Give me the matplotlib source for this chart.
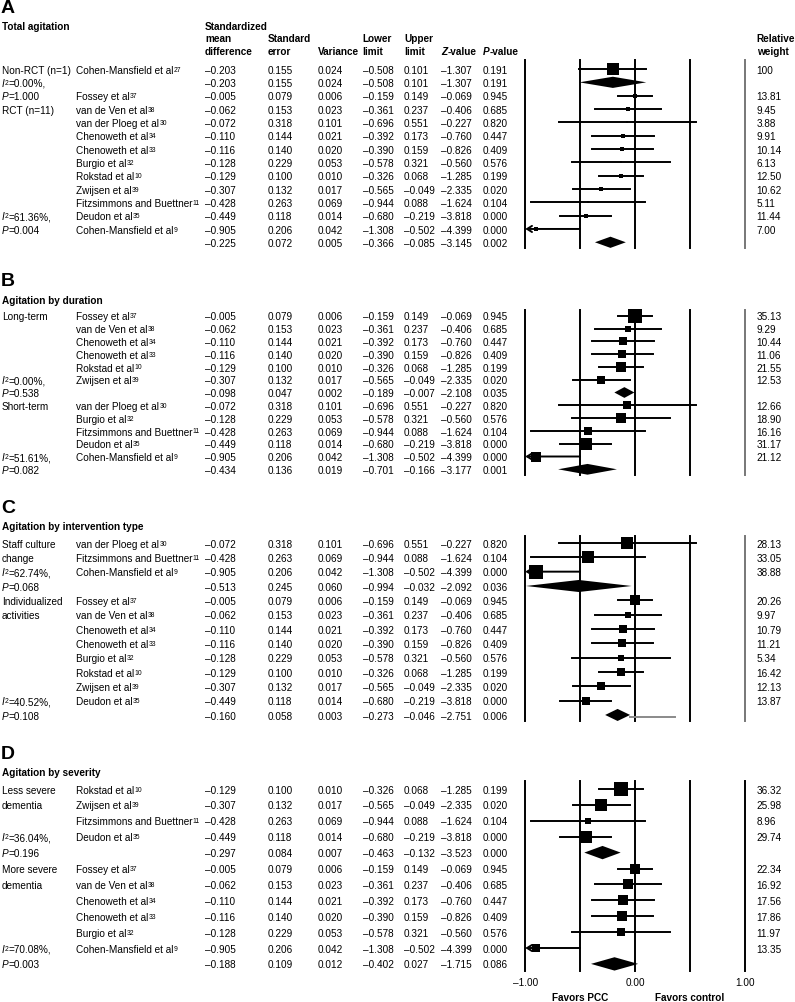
import numpy as np
import matplotlib.pyplot as plt
from matplotlib import transforms

plt.rcParams['font.family'] = 'Liberation Sans'

# studies (the same numbers come back in every panel)
study_name = ["Cohen-Mansfield et al", "Fossey et al", "van de Ven et al", "van der Ploeg et al",
              "Chenoweth et al", "Chenoweth et al", "Burgio et al", "Rokstad et al",
              "Zwijsen et al", "Fitzsimmons and Buettner", "Deudon et al", "Cohen-Mansfield et al"]
study_ref = ["27", "37", "38", "30", "34", "33", "32", "10", "39", "11", "35", "9"]
study_smd = [-0.203, -0.005, -0.062, -0.072, -0.110, -0.116, -0.128, -0.129, -0.307, -0.428, -0.449, -0.905]
study_se = [0.155, 0.079, 0.153, 0.318, 0.144, 0.140, 0.229, 0.100, 0.132, 0.263, 0.118, 0.206]
study_var = [0.024, 0.006, 0.023, 0.101, 0.021, 0.020, 0.053, 0.010, 0.017, 0.069, 0.014, 0.042]
study_lo = [-0.508, -0.159, -0.361, -0.696, -0.392, -0.390, -0.578, -0.326, -0.565, -0.944, -0.680, -1.308]
study_hi = [0.101, 0.149, 0.237, 0.551, 0.173, 0.159, 0.321, 0.068, -0.049, 0.088, -0.219, -0.502]
study_z = [-1.307, -0.069, -0.406, -0.227, -0.760, -0.826, -0.560, -1.285, -2.335, -1.624, -3.818, -4.399]
study_p = [0.191, 0.945, 0.685, 0.820, 0.447, 0.409, 0.576, 0.199, 0.020, 0.104, 0.000, 0.000]

# "S" = pooled row (smd, se, var, lo, hi, z, p)
a_rows = [0, "S", 1, 2, 3, 4, 5, 6, 7, 8, 9, 10, 11, "S"]
a_weight = [100, None, 13.81, 9.45, 3.88, 9.91, 10.14, 6.13, 12.50, 10.62, 5.11, 11.44, 7.00, None]
a_pooled = [[-0.203, 0.155, 0.024, -0.508, 0.101, -1.307, 0.191],
            [-0.225, 0.072, 0.005, -0.366, -0.085, -3.145, 0.002]]
a_groups = {0: "Non-RCT (n=1)", 3: "RCT (n=11)"}
a_het = [(1, "0.00%,", "1.000"), (11, "61.36%,", "0.004")]

b_rows = [1, 2, 4, 5, 7, 8, "S", 3, 6, 9, 10, 11, "S"]
b_weight = [35.13, 9.29, 10.44, 11.06, 21.55, 12.53, None, 12.66, 18.90, 16.16, 31.17, 21.12, None]
b_pooled = [[-0.098, 0.047, 0.002, -0.189, -0.007, -2.108, 0.035],
            [-0.434, 0.136, 0.019, -0.701, -0.166, -3.177, 0.001]]
b_groups = {0: "Long-term", 7: "Short-term"}
b_het = [(5, "0.00%,", "0.538"), (11, "51.61%,", "0.082")]

c_rows = [3, 9, 11, "S", 1, 2, 4, 5, 6, 7, 8, 10, "S"]
c_weight = [28.13, 33.05, 38.88, None, 20.26, 9.97, 10.79, 11.21, 5.34, 16.42, 12.13, 13.87, None]
c_pooled = [[-0.513, 0.245, 0.060, -0.994, -0.032, -2.092, 0.036],
            [-0.160, 0.058, 0.003, -0.273, -0.046, -2.751, 0.006]]
c_groups = {0: "Staff culture", 1: "change", 4: "Individualized", 5: "activities"}
c_het = [(2, "62.74%,", "0.068"), (11, "40.52%,", "0.108")]
c_trail_end = 0.36  # stray grey line after the last diamond

d_rows = [7, 8, 9, 10, "S", 1, 2, 4, 5, 6, 11, "S"]
d_weight = [36.32, 25.98, 8.96, 29.74, None, 22.34, 16.92, 17.56, 17.86, 11.97, 13.35, None]
d_pooled = [[-0.297, 0.084, 0.007, -0.463, -0.132, -3.523, 0.000],
            [-0.188, 0.109, 0.012, -0.402, 0.027, -1.715, 0.086]]
d_groups = {0: "Less severe", 1: "dementia", 5: "More severe", 6: "dementia"}
d_het = [(3, "36.04%,", "0.196"), (10, "70.08%,", "0.003")]

W, H = 795, 1003
fig = plt.figure(figsize=(W / 100, H / 100), dpi=100)
FS = 7.2
# shift so that a baseline-aligned text sits centred on its row
drop = transforms.ScaledTranslation(0, -3.6 / 100, fig.dpi_scale_trans)


def fx(px):
    return px / W


def fy(py):
    return 1 - py / H


def fmt(v):
    return f"{v:.3f}".replace("-", "\u2013")


def rich(ax, x, y, parts, tr, bold=False):
    # parts: (text, style) with style 'n', 'i' or 'sup'
    first = prev = None
    for txt, st in parts:
        kw = dict(fontsize=FS, fontweight='bold' if bold else 'normal',
                  fontstyle='italic' if st == 'i' else 'normal')
        if prev is None:
            prev = first = ax.text(x, y, txt, transform=tr, va='baseline', ha='left', **kw)
        elif st == 'sup':
            prev = ax.annotate(txt, xy=(1, 1), xycoords=prev, xytext=(0.2, -0.7), textcoords='offset points',
                               va='top', ha='left', fontsize=FS * 0.68, annotation_clip=False)
        else:
            prev = ax.annotate(txt, xy=(1, 0), xycoords=(prev, first), va='bottom', ha='left',
                               annotation_clip=False, **kw)
    return first


col_x = [205, 268, 318, 362.7, 404, 441, 482.7]
side_x, name_x, weight_x = 2, 76, 756.7
x_left, x_right = 525.3, 745


def draw_panel(letter, title, title_y, rows, weights, pooled, groups, het, first, step, top_pad, k, edge,
               trail=None):
    n = len(rows)
    top = first - top_pad * step
    bottom = first + (n - 1 + 0.45) * step
    ax = fig.add_axes([fx(x_left), fy(bottom), (x_right - x_left) / W, (bottom - top) / H])
    ax.set_xlim(-1, 1)
    ax.set_ylim(n - 1 + 0.45, -top_pad)
    for s in ax.spines.values():
        s.set_visible(False)
    ax.set_xticks([])
    ax.set_yticks([])
    for xv in [-1, -0.5, 0, 0.5]:
        ax.axvline(xv, color='black', lw=1.4, clip_on=False)
    ax.axvline(1, color=edge, lw=1.4, clip_on=False)

    fig.text(fx(1), fy(title_y - 18), letter, fontsize=14, fontweight='bold', va='center')
    fig.text(fx(2), fy(title_y + 3.6), title, fontsize=FS, fontweight='bold', va='baseline')

    tr = transforms.blended_transform_factory(fig.transFigure, ax.transData) + drop
    j = 0
    for i, r in enumerate(rows):
        if r == "S":
            vals = pooled[j]
            j += 1
            smd, lo, hi = vals[0], vals[3], vals[4]
            h = 0.42
            ax.fill([lo, smd, hi, smd], [i, i - h, i, i + h], color='black', lw=0, clip_on=False)
            if trail is not None and j == len(pooled):
                ax.plot([hi, trail], [i + 0.15, i + 0.15], color='#8a8a8a', lw=1.4)
        else:
            vals = [study_smd[r], study_se[r], study_var[r], study_lo[r], study_hi[r], study_z[r], study_p[r]]
            smd, lo, hi = vals[0], vals[3], vals[4]
            rich(ax, fx(name_x), i, [(study_name[r], 'n'), (study_ref[r], 'sup')], tr)
            if lo < -1:
                ax.annotate('', xy=(-1, i), xytext=(hi, i),
                            arrowprops=dict(arrowstyle='->,head_length=0.35,head_width=0.22',
                                            lw=1.4, color='black', shrinkA=0, shrinkB=0),
                            annotation_clip=False)
            else:
                ax.plot([lo, hi], [i, i], color='black', lw=1.4, clip_on=False)
            w = weights[i]
            ax.plot(smd, i, 's', color='black', mew=0, ms=k * np.sqrt(w) * 0.72, clip_on=False)
            wl = f"{w:g}" if w >= 100 else f"{w:.2f}"
            ax.text(fx(weight_x), i, wl, transform=tr, fontsize=FS, va='baseline', ha='left')
        for cx, v in zip(col_x, vals):
            ax.text(fx(cx), i, fmt(v), transform=tr, fontsize=FS, va='baseline', ha='left')
        if i in groups:
            ax.text(fx(side_x), i, groups[i], transform=tr, fontsize=FS, va='baseline', ha='left')
    for r, i2, pv in het:
        rich(ax, fx(side_x), r, [("I", 'i'), ("2", 'sup'), ("=" + i2, 'n')], tr)
        rich(ax, fx(side_x), r + 1, [("P", 'i'), ("=" + pv, 'n')], tr)
    return ax


axa = draw_panel("A", "Total agitation", 26.7, a_rows, a_weight, a_pooled, a_groups, a_het,
                 70, 13.33, 0.68, 1.2, '#777777')
draw_panel("B", "Agitation by duration", 300, b_rows, b_weight, b_pooled, b_groups, b_het,
           316.7, 12.8, 0.45, 2.2, '#777777')
draw_panel("C", "Agitation by intervention type", 526.7, c_rows, c_weight, c_pooled, c_groups, c_het,
           544, 14.33, 0.49, 2.2, '#777777', trail=c_trail_end)
axd = draw_panel("D", "Agitation by severity", 772.7, d_rows, d_weight, d_pooled, d_groups, d_het,
                 790, 15.9, 0.52, 2.2, 'black')

# header of the table (panel A only)
hdr = [(205, 26.7, "Standardized"), (205, 38.7, "mean"), (205, 51, "difference"),
       (268, 38.7, "Standard"), (268, 51, "error"), (318, 51, "Variance"),
       (362.7, 38.7, "Lower"), (362.7, 51, "limit"), (404, 38.7, "Upper"), (404, 51, "limit"),
       (756.7, 38.7, "Relative"), (756.7, 51, "weight")]
for hx, hy, t in hdr:
    fig.text(fx(hx), fy(hy + 3.6), t, fontsize=FS, fontweight='bold', va='baseline', ha='left')
rich(axa, fx(441), fy(51 + 3.6), [("Z", 'i'), ("-value", 'n')], fig.transFigure, bold=True)
rich(axa, fx(482.7), fy(51 + 3.6), [("P", 'i'), ("-value", 'n')], fig.transFigure, bold=True)

axd.set_xticks([-1, 0, 1])
axd.set_xticklabels(["\u20131.00", "0.00", "1.00"], fontsize=FS)
axd.tick_params(axis='x', length=0, pad=4)
trd = transforms.blended_transform_factory(axd.transData, fig.transFigure)
axd.text(-0.5, fy(998), "Favors PCC", transform=trd, fontsize=FS, fontweight='bold', ha='center', va='center')
axd.text(0.5, fy(998), "Favors control", transform=trd, fontsize=FS, fontweight='bold', ha='center', va='center')

fig.savefig("out.png", dpi=100)
